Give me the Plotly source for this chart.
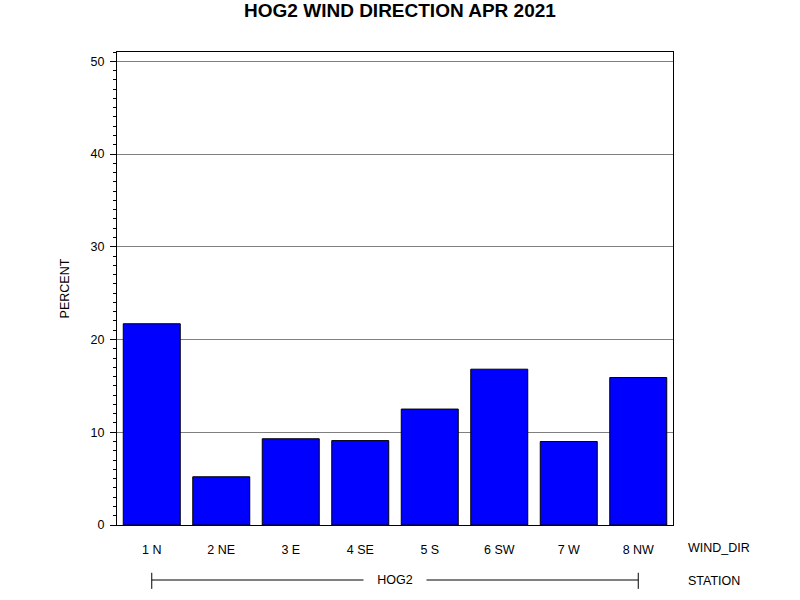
import plotly.graph_objects as go

# Wind direction frequency, station HOG2, April 2021
wind_dirs = ["1 N", "2 NE", "3 E", "4 SE", "5 S", "6 SW", "7 W", "8 NW"]
percent = [21.7, 5.2, 9.3, 9.1, 12.5, 16.8, 9.0, 15.9]
station = "HOG2"
y_ticks = [0, 10, 20, 30, 40, 50]

fig = go.Figure(go.Bar(
    x=wind_dirs,
    y=percent,
    marker=dict(color="#0000FF", line=dict(color="black", width=1)),
    width=0.82,
))

fig.update_layout(
    width=800, height=600,
    paper_bgcolor="white", plot_bgcolor="white",
    margin=dict(l=117, r=127, t=52, b=75),
    font=dict(family="Liberation Sans, Arial, sans-serif", size=12.5, color="black"),
    title=dict(text="<b>HOG2 WIND DIRECTION APR 2021</b>", x=0.5, xanchor="center",
               y=0.982, yanchor="middle", font=dict(size=19)),
    showlegend=False,
)

fig.update_yaxes(
    range=[0, 51], tickvals=y_ticks,
    showline=True, linecolor="black", linewidth=1, mirror=True,
    ticks="outside", ticklen=6, tickcolor="black",
    minor=dict(dtick=1, ticks="outside", ticklen=3, tickcolor="black", showgrid=False),
    showgrid=True, gridcolor="#808080", gridwidth=1,
    zeroline=False,
    title=dict(text="PERCENT", standoff=18, font=dict(size=12.5)),
    ticklabelstandoff=3,
)

fig.update_xaxes(
    showline=True, linecolor="black", linewidth=1, mirror=True,
    ticks="", showgrid=False,
    ticklabelstandoff=13,
)

# station group bracket under the category labels
n = len(wind_dirs)
line_y = -0.1163
fig.add_shape(type="line", xref="x", yref="paper", x0=0, x1=n - 1, y0=line_y, y1=line_y,
              line=dict(color="black", width=1))
for xi in (0, n - 1):
    fig.add_shape(type="line", xref="x", yref="paper", x0=xi, x1=xi, y0=-0.101, y1=-0.135,
                  line=dict(color="black", width=1))
fig.add_annotation(text=station, xref="x", yref="paper", x=(n - 1) / 2, y=line_y,
                   showarrow=False, bgcolor="white", borderpad=0,
                   font=dict(size=12.5), xanchor="center", yanchor="middle",
                   width=62)

fig.add_annotation(text="WIND_DIR", xref="paper", yref="paper", x=1.0234, y=-0.0486,
                   showarrow=False, xanchor="left", yanchor="middle", font=dict(size=12.5))
fig.add_annotation(text="STATION", xref="paper", yref="paper", x=1.0234, y=-0.1184,
                   showarrow=False, xanchor="left", yanchor="middle", font=dict(size=12.5))

# drop the default page margin so the figure sits at the window's corner
fig.write_html("out.html", config={"displayModeBar": False},
               post_script="document.body.style.margin='0';")
